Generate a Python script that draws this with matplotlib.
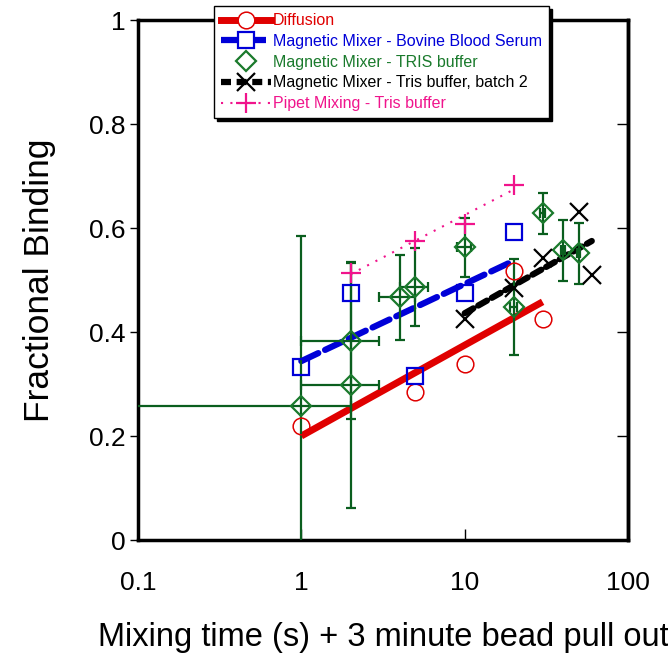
import matplotlib
matplotlib.use("Agg")
import matplotlib.pyplot as plt
from matplotlib.lines import Line2D

plt.rcParams["font.family"] = ["Liberation Sans", "DejaVu Sans"]

# ── data ────────────────────────────────────────────────────────────────────
diff_x = [1, 5, 10, 20, 30]
diff_y = [0.22, 0.285, 0.338, 0.517, 0.425]
diff_fit_x = [1, 30]
diff_fit_y = [0.20, 0.458]

serum_x = [1, 2, 5, 10, 20]
serum_y = [0.333, 0.475, 0.315, 0.475, 0.592]
serum_fit_x = [1, 20]
serum_fit_y = [0.344, 0.537]

tris_x = [1, 2, 2, 4, 5, 10, 20, 30, 40, 50]
tris_y = [0.258, 0.298, 0.383, 0.467, 0.487, 0.563, 0.448, 0.628, 0.557, 0.551]
tris_xerr = [1, 1, 1, 1, 1, 1, 1, 1, 1, 1]
tris_yerr = [0.327, 0.236, 0.15, 0.082, 0.075, 0.057, 0.093, 0.040, 0.058, 0.059]

batch2_x = [10, 20, 30, 50, 60]
batch2_y = [0.425, 0.485, 0.542, 0.631, 0.51]
batch2_fit_x = [10, 60]
batch2_fit_y = [0.436, 0.575]

pipet_x = [2, 5, 10, 20]
pipet_y = [0.513, 0.575, 0.608, 0.683]
pipet_fit_x = [2, 20]
pipet_fit_y = [0.511, 0.674]

labels = ["Diffusion",
          "Magnetic Mixer - Bovine Blood Serum",
          "Magnetic Mixer - TRIS buffer",
          "Magnetic Mixer - Tris buffer, batch 2",
          "Pipet Mixing - Tris buffer"]

RED, BLUE, GREEN, DKGREEN, PINK = "#e00000", "#0000d8", "#1a7a2c", "#0a5e1e", "#f0148c"
BLUE_DASH = (0, (3.0, 1.2))
BLACK_DASH = (0, (1.6, 0.9))

fig = plt.figure(figsize=(6.68, 6.56), dpi=100)
ax = fig.add_axes([138 / 668, 1 - 540 / 656, 490 / 668, 520 / 656])
ax.set_xscale("log")

# fit lines
ax.plot(diff_fit_x, diff_fit_y, color=RED, lw=5, solid_capstyle="butt", zorder=2)
ax.plot(serum_fit_x, serum_fit_y, color=BLUE, lw=4.5, ls=BLUE_DASH,
        dash_capstyle="round", zorder=2)
ax.plot(batch2_fit_x, batch2_fit_y, color="black", lw=4.5, ls=BLACK_DASH,
        dash_capstyle="round", zorder=2)
ax.plot(pipet_fit_x, pipet_fit_y, color=PINK, lw=1.5, ls=(0, (1, 3.5)), zorder=2)

# points
ax.errorbar(tris_x, tris_y, xerr=tris_xerr, yerr=tris_yerr, fmt="none",
            ecolor=DKGREEN, elinewidth=1.6, capsize=3.5, capthick=1.6, zorder=3)
ax.plot(tris_x, tris_y, ls="none", marker="D", ms=10, mfc="none", mec=GREEN, mew=1.6, zorder=4)
ax.plot(diff_x, diff_y, ls="none", marker="o", ms=12, mfc="none", mec=RED, mew=1.1, zorder=4)
ax.plot(serum_x, serum_y, ls="none", marker="s", ms=12, mfc="none", mec=BLUE, mew=1.6, zorder=4)
ax.plot(batch2_x, batch2_y, ls="none", marker="x", ms=13, mec="black", mew=1.6, zorder=4)
ax.plot(pipet_x, pipet_y, ls="none", marker="+", ms=14, mec=PINK, mew=1.6, zorder=4)

ax.set_xlim(0.1, 100)
ax.set_ylim(0, 1)
ax.set_xticks([0.1, 1, 10, 100])
ax.set_xticklabels(["0.1", "1", "10", "100"])
ax.minorticks_off()
ax.set_yticks([0, 0.2, 0.4, 0.6, 0.8, 1])
ax.set_yticklabels(["0", "0.2", "0.4", "0.6", "0.8", "1"])
ax.tick_params(axis="x", direction="in", length=8, width=1, pad=22, labelsize=19)
ax.tick_params(axis="y", direction="out", length=6, width=1, pad=3, labelsize=19)
for s in ax.spines.values():
    s.set_linewidth(2.5)

sec = ax.secondary_yaxis("right")
sec.set_yticks([0.2, 0.4, 0.6, 0.8])
sec.tick_params(direction="in", length=8, width=1, labelright=False)
sec.spines["right"].set_linewidth(2.5)

ax.set_xlabel("Mixing time (s) + 3 minute bead pull out", fontsize=23.5, labelpad=20)
ax.set_ylabel("Fractional Binding", fontsize=25.5, labelpad=24)

handles = [
    Line2D([], [], color=RED, lw=5, marker="o", ms=12, mfc="white", mec=RED, mew=1.1),
    Line2D([], [], color=BLUE, lw=4.5, ls=BLUE_DASH, marker="s", ms=12, mfc="white", mec=BLUE, mew=1.6),
    Line2D([], [], ls="none", marker="D", ms=10, mfc="none", mec=GREEN, mew=1.6),
    Line2D([], [], color="black", lw=4.5, ls=BLACK_DASH, marker="x", ms=13, mec="black", mew=1.6),
    Line2D([], [], color=PINK, lw=1.5, ls=(0, (1, 3.5)), marker="+", ms=14, mec=PINK, mew=1.6),
]
leg = ax.legend(handles, labels, loc="upper left",
                bbox_to_anchor=(214 / 668, 1 - 6 / 656), bbox_transform=fig.transFigure,
                borderaxespad=0, fontsize=11.5, handlelength=3.1, handletextpad=0.15,
                labelspacing=0.36, borderpad=0.45, fancybox=False, framealpha=1,
                edgecolor="black", shadow={"color": "black", "alpha": 1})
leg.get_frame().set_linewidth(1)
for txt, c in zip(leg.get_texts(), [RED, BLUE, GREEN, "black", PINK]):
    txt.set_color(c)

fig.savefig("out.png", dpi=100)
